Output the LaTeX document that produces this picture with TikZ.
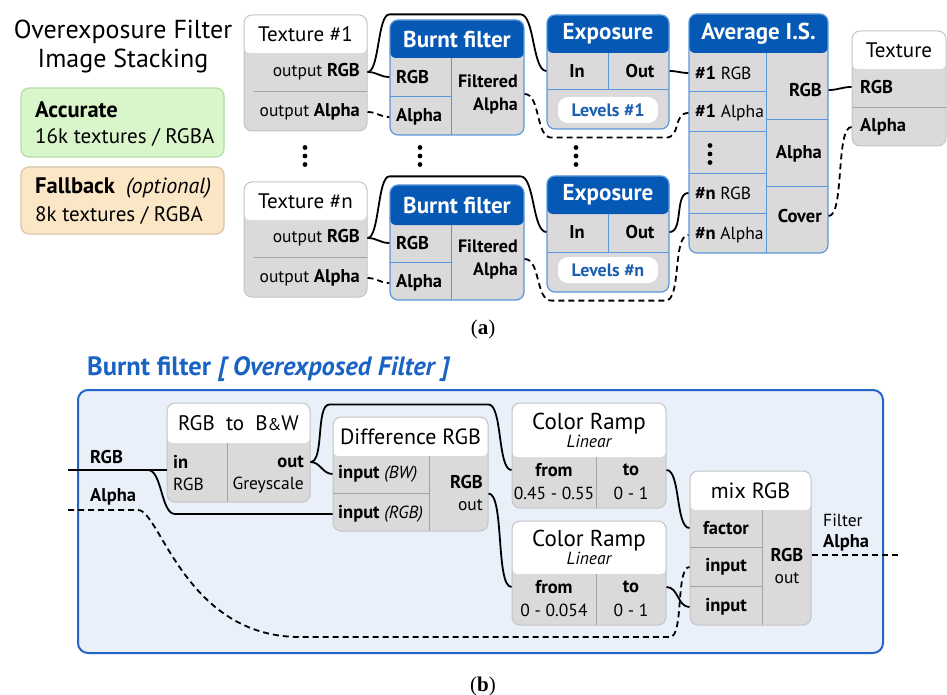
\documentclass[tikz,border=0pt]{standalone}
\usepackage{fontspec}
\setmainfont{PT Sans}
\newfontfamily\captionserif{Liberation Serif}
\usetikzlibrary{fit,calc}

\newcommand\fsz[1]{\fontsize{#1}{#1}\selectfont}
% bold words inside mixed labels are set a little larger
\newcommand\bw[1]{{\bfseries\fsz{18.5}#1}}

\definecolor{bodygray}{HTML}{DADADA}
\definecolor{grayedge}{HTML}{C4C4C4}
\definecolor{graydiv}{HTML}{A3A3A3}
\definecolor{hdblue}{HTML}{0558B4}
\definecolor{edgeblue}{HTML}{5A96DC}
\definecolor{lvlblue}{HTML}{1C5EB0}
\definecolor{panelbg}{HTML}{E9F0FA}
\definecolor{paneledge}{HTML}{2166C6}
\definecolor{titleblue}{HTML}{1A63C2}
\definecolor{accfill}{HTML}{D9F6CB}
\definecolor{accedge}{HTML}{B4DDA2}
\definecolor{fbfill}{HTML}{FBE6C6}
\definecolor{fbedge}{HTML}{D8C6A6}

\tikzset{
  box-gray-head/.style={fill=white},
  box-blue-head/.style={fill=hdblue},
  box-gray-edge/.style={draw=grayedge,line width=1pt},
  box-blue-edge/.style={draw=edgeblue,line width=1.2pt},
  gdiv/.style={draw=graydiv,line width=0.9pt},
  bdiv/.style={draw=edgeblue,line width=1pt},
  box-gray-text/.style={font=\fsz{21},text=black},
  box-blue-text/.style={font=\bfseries\fsz{23},text=white},
  port/.style={font=\fsz{17.5},inner sep=0pt},
  bport/.style={font=\bfseries\fsz{18.5},inner sep=0pt},
  wire/.style={line width=1.8pt,black},
  alphawire/.style={wire,dash pattern=on 6pt off 4pt},
  hs/.style={out=0,in=180,distance=#1},
  pill/.style={inner sep=0pt,fill=white,rounded corners=10pt},
  pilltext/.style={font=\bfseries\fsz{18},text=lvlblue},
  dot/.style={fill=black},
  subcap/.style={font=\captionserif\fsz{21}},
}

% rounded box with a header band: name, x1, y1, x2, y2, header bottom, header text, kind
\newcommand\flowbox[8]{%
  \fill[bodygray,rounded corners=8pt] (#2,#3) rectangle (#4,#5);
  \begin{scope}
    \clip[rounded corners=8pt] (#2,#3) rectangle (#4,#5);
    \path[box-#8-head,rounded corners=6pt] (#2,#3) rectangle (#4,#6);
  \end{scope}
  \node[fit={(#2,#3) (#4,#5)},inner sep=0pt,rounded corners=8pt,box-#8-edge] (#1) {};
  \node[box-#8-text,align=center,inner sep=0pt] (#1-h) at ($(#2,#3)!.5!(#4,#6)$) {#7};
}
\newcommand\threedots[2]{%
  \fill[dot] (#1,#2-8.5) circle[radius=2.4pt];
  \fill[dot] (#1,#2) circle[radius=2.4pt];
  \fill[dot] (#1,#2+8.5) circle[radius=2.4pt];
}

\begin{document}
\begin{tikzpicture}[x=1pt,y=-1pt]
\useasboundingbox (0,0) rectangle (947,695);

% ---------- legend ----------
\node[align=center,font=\fontsize{26}{29}\selectfont] (title) at (123,47) {Overexposure Filter\\Image Stacking};
\node[fit={(21,88) (224,157)},inner sep=0pt,fill=accfill,draw=accedge,line width=1.2pt,rounded corners=8pt] (acc) {};
\node[anchor=west,font=\bfseries\fsz{22.5},inner sep=0pt] (acc-t) at (35,110) {Accurate};
\node[anchor=west,font=\fsz{21},inner sep=0pt] (acc-d) at (35,137) {16k textures / RGBA};
\node[fit={(21,167) (224,234)},inner sep=0pt,fill=fbfill,draw=fbedge,line width=1.2pt,rounded corners=8pt] (fb) {};
\node[anchor=west,font=\fsz{21},inner sep=0pt] (fb-t) at (35,188) {{\bfseries\fsz{22.5}Fallback}~~{\itshape\fsz{22}(optional)}};
\node[anchor=west,font=\fsz{21},inner sep=0pt] (fb-d) at (35,215) {8k textures / RGBA};

% ---------- textures ----------
\flowbox{t1}{244}{15}{367}{131}{53}{Texture \#1}{gray}
\draw[gdiv] (254,91) -- (367,91);
\node[port,anchor=east] (t1-rgb) at (360,72) {output \bw{RGB}};
\node[port,anchor=east] (t1-a) at (360,112) {output \bw{Alpha}};

\flowbox{tn}{244}{182}{367}{297}{220}{Texture \#n}{gray}
\draw[gdiv] (254,257) -- (367,257);
\node[port,anchor=east] (tn-rgb) at (360,238) {output \bw{RGB}};
\node[port,anchor=east] (tn-a) at (360,278) {output \bw{Alpha}};

% ---------- burnt filters ----------
\flowbox{bf1}{390}{20}{524}{135}{58}{Burnt filter}{blue}
\draw[bdiv] (451,58) -- (451,135) (390,97) -- (451,97);
\node[bport,anchor=west] (bf1-rgb) at (396,77) {RGB};
\node[bport,anchor=west] (bf1-a) at (396,117) {Alpha};
\node[bport,anchor=east,align=right,font=\bfseries\fontsize{18}{23}\selectfont] (bf1-fa) at (518,94) {Filtered\\Alpha};

\flowbox{bfn}{390}{185}{524}{300}{225}{Burnt filter}{blue}
\draw[bdiv] (451,225) -- (451,300) (390,262) -- (451,262);
\node[bport,anchor=west] (bfn-rgb) at (396,243) {RGB};
\node[bport,anchor=west] (bfn-a) at (396,283) {Alpha};
\node[bport,anchor=east,align=right,font=\bfseries\fontsize{18}{23}\selectfont] (bfn-fa) at (518,259) {Filtered\\Alpha};

% ---------- exposure ----------
\flowbox{ex1}{547}{15}{669}{129}{53}{Exposure}{blue}
\draw[bdiv] (608,53) -- (608,90) (547,90) -- (669,90);
\node[bport] (ex1-in) at (577,71) {In};
\node[bport] (ex1-out) at (640,71) {Out};
\node[pill,fit={(558,97) (658,123)}] (ex1-lv) {};
\node[pilltext] at (ex1-lv) {Levels \#1};

\flowbox{exn}{547}{176}{669}{292}{214}{Exposure}{blue}
\draw[bdiv] (608,214) -- (608,252) (547,252) -- (669,252);
\node[bport] (exn-in) at (577,232) {In};
\node[bport] (exn-out) at (640,232) {Out};
\node[pill,fit={(558,257) (658,283)}] (exn-lv) {};
\node[pilltext] at (exn-lv) {Levels \#n};

% ---------- average image stacking ----------
\flowbox{avg}{689}{14}{828}{253}{53}{Average I.S.}{blue}
\draw[bdiv] (766,53) -- (766,253);
\draw[bdiv] (689,92) -- (766,92) (689,132) -- (766,132) (689,174) -- (766,174) (689,213) -- (766,213);
\draw[bdiv] (766,120) -- (828,120) (766,187) -- (828,187);
\node[port,anchor=west] (avg-1rgb) at (695,73) {\bw{\#1} RGB};
\node[port,anchor=west] (avg-1a) at (695,113) {\bw{\#1} Alpha};
\node[port,anchor=west] (avg-nrgb) at (695,193) {\bw{\#n} RGB};
\node[port,anchor=west] (avg-na) at (695,235) {\bw{\#n} Alpha};
\node[bport,anchor=east] (avg-rgb) at (822,90) {RGB};
\node[bport,anchor=east] (avg-al) at (822,154) {Alpha};
\node[bport,anchor=east] (avg-cov) at (822,216) {Cover};

% ---------- output texture ----------
\flowbox{tout}{852}{31}{946}{146}{69}{Texture}{gray}
\draw[gdiv] (852,107) -- (946,107);
\node[bport,anchor=west] (tout-rgb) at (860,87) {RGB};
\node[bport,anchor=west] (tout-a) at (860,127) {Alpha};

% ---------- ellipsis dots ----------
\threedots{305}{156}
\threedots{420}{156}
\threedots{576}{156}
\threedots{710}{154}

% ---------- connectors (a) ----------
\draw[wire] (t1.east |- t1-rgb) to[hs=10pt] (bf1.west |- bf1-rgb);
\draw[wire] (t1.east |- t1-rgb) to[hs=12pt] ($(bf1.north west)+(0,-5)$) -- ($(bf1.north east)+(-4,-5)$) to[hs=14pt] (ex1.west |- ex1-in);
\draw[alphawire] (t1.east |- t1-a) to[hs=10pt] (bf1.west |- bf1-a);
\draw[alphawire] (bf1.east |- bf1-fa) to[hs=16pt] ($(ex1.south west)+(5,8)$) -- ($(ex1.south east)+(-4,8)$) to[hs=16pt] (avg.west |- avg-1a);

\draw[wire] (tn.east |- tn-rgb) to[hs=10pt] (bfn.west |- bfn-rgb);
\draw[wire] (tn.east |- tn-rgb) to[hs=12pt] ($(bfn.north west)+(0,-8)$) -- ($(bfn.north east)+(-4,-8)$) to[hs=14pt] (exn.west |- exn-in);
\draw[alphawire] (tn.east |- tn-a) to[hs=10pt] (bfn.west |- bfn-a);
\draw[alphawire] (bfn.east |- bfn-fa) to[hs=16pt] ($(exn.south west)+(5,8)$) -- ($(exn.south east)+(-4,8)$) to[hs=16pt] (avg.west |- avg-na);

\draw[wire] (ex1.east |- ex1-out) to[hs=8pt] (avg.west |- avg-1rgb);
\draw[wire] (exn.east |- exn-out) to[hs=14pt] (avg.west |- avg-nrgb);
\draw[wire] (avg.east |- avg-rgb) to[hs=10pt] (tout.west |- tout-rgb);
\draw[alphawire] (avg.east |- avg-cov) to[hs=16pt] (tout.west |- tout-a);

\node[subcap] (cap-a) at (483,329) {(\textbf{a})};

% ---------- panel (b) ----------
\node[anchor=west,text=titleblue,font=\bfseries\fsz{26.5},inner sep=0pt] (btitle) at (87,369) {Burnt filter \textit{[ Overexposed Filter ]}};
\node[fit={(78,390) (883,653)},inner sep=0pt,fill=panelbg,draw=paneledge,line width=2pt,rounded corners=10pt] (panel) {};

\flowbox{bw}{167}{403}{310}{502}{443}{RGB~~to~~B{\fsz{17}\&}W}{gray}
\draw[gdiv] (227,443) -- (227,502);
\node[bport,anchor=west] (bw-in) at (173,462) {in};
\node[port,anchor=west] (bw-inf) at (173,484) {RGB};
\node[bport,anchor=east] (bw-out) at (304,462) {out};
\node[port,anchor=east] (bw-outf) at (304,485) {Greyscale};

\flowbox{dif}{333}{417}{488}{531}{456}{\fsz{22}Difference RGB}{gray}
\draw[gdiv] (429,456) -- (429,531) (333,493) -- (429,493);
\node[port,anchor=west] (dif-in1) at (338,474) {\bw{input} \textit{(BW)}};
\node[port,anchor=west] (dif-in2) at (338,514) {\bw{input} \textit{(RGB)}};
\node[bport,anchor=east] (dif-rgb) at (483,482) {RGB};
\node[port,anchor=east] (dif-outl) at (483,505) {out};
\coordinate (dif-port) at ($(dif-rgb)!.5!(dif-outl)$);

\flowbox{cr1}{512}{403}{666}{508}{457}{\fsz{23}Color Ramp\\[-3pt]{\itshape\fsz{17.5}Linear}}{gray}
\draw[gdiv] (596,457) -- (596,508);
\node[bport] (cr1-from) at (554,470) {from};
\node[port] (cr1-fv) at (554,493) {0.45 - 0.55};
\node[bport] (cr1-to) at (631,470) {to};
\node[port] (cr1-tv) at (631,493) {0 - 1};

\flowbox{cr2}{512}{521}{666}{625}{574}{\fsz{23}Color Ramp\\[-3pt]{\itshape\fsz{17.5}Linear}}{gray}
\draw[gdiv] (596,574) -- (596,625);
\node[bport] (cr2-from) at (554,587) {from};
\node[port] (cr2-fv) at (554,610) {0 - 0.054};
\node[bport] (cr2-to) at (631,587) {to};
\node[port] (cr2-tv) at (631,610) {0 - 1};

\flowbox{mix}{690}{471}{811}{625}{510}{\fsz{22}mix RGB}{gray}
\draw[gdiv] (762,510) -- (762,625) (690,547) -- (762,547) (690,586) -- (762,586);
\node[bport] (mix-fac) at (726,528) {factor};
\node[bport] (mix-in1) at (726,567) {input};
\node[bport] (mix-in2) at (726,607) {input};
\node[bport] (mix-rgb) at (787,555) {RGB};
\node[port] (mix-outl) at (787,578) {out};

\node[port,anchor=west] (flt-1) at (823,520) {Filter};
\node[bport,anchor=west] (flt-2) at (823,543) {Alpha};

\node[bport,anchor=west] (lbl-rgb) at (90,457) {RGB};
\node[bport,anchor=west] (lbl-a) at (90,497) {Alpha};

% ---------- connectors (b) ----------
\coordinate (src-rgb) at (68,470);
\coordinate (src-a) at (68,510);
\coordinate (split) at (148,470);
\coordinate (split-x) at (175,470);
\coordinate (flt-end) at (900,555);

\draw[wire] (src-rgb) -- (bw.west |- src-rgb);
\draw[wire] (split) to[hs=14pt] (split-x |- dif-in2) -- (dif.west |- dif-in2);
\draw[alphawire] (src-a) -- ($(src-a)+(70,0)$) .. controls (160,510) and (185,637) .. (300,637) -- (670,637) to[hs=14pt] (mix.west |- mix-in1);

\draw[wire] (bw.east |- bw-out) to[hs=10pt] (dif.west |- dif-in1);
\draw[wire] (bw.east |- bw-out) to[hs=14pt] ($(dif.north west)+(-3,-12)$) -- ($(dif.north east)+(0,-12)$) to[hs=14pt] (cr1.west |- cr1-from);
\draw[wire] (dif.east |- dif-port) to[hs=16pt] (cr2.west |- cr2-from);
\draw[wire] (cr1.east |- cr1-from) to[hs=14pt] (mix.west |- mix-fac);
\draw[wire] (cr2.east |- cr2-from) to[hs=12pt] (mix.west |- mix-in2);
\draw[alphawire] (mix.east |- mix-rgb) -- (flt-end);

\node[subcap] (cap-b) at (483,686) {(\textbf{b})};
\end{tikzpicture}
\end{document}
